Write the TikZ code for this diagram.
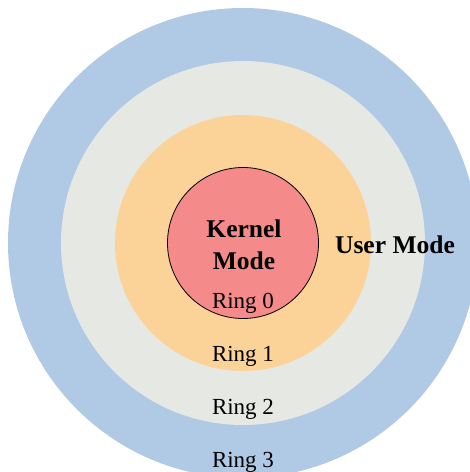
\documentclass[tikz,border=0pt]{standalone}
\usepackage{fontspec}
\setmainfont{Liberation Serif}
\definecolor{ringthree}{RGB}{176,201,229}
\definecolor{ringtwo}{RGB}{230,232,227}
\definecolor{ringone}{RGB}{251,211,152}
\definecolor{ringzero}{RGB}{245,138,138}
\begin{document}
\begin{tikzpicture}[x=1pt,y=-1pt,
  ring/.style={circle,inner sep=0pt,minimum size=#1},
  lbl/.style={font=\fontsize{23}{27}\selectfont,inner sep=0pt},
  bold/.style={font=\fontsize{25.5}{32}\selectfont\bfseries,inner sep=0pt,align=center}]
\useasboundingbox (0,0) rectangle (470,472);
\begin{scope}
\clip (0,0) rectangle (470,472);
\node[ring=470pt,fill=ringthree] (r3) at (243,243) {};
\node[ring=364pt,fill=ringtwo] (r2) at (243,243) {};
\node[ring=256pt,fill=ringone] (r1) at (243,243) {};
\node[ring=151pt,fill=ringzero,draw=black,line width=0.8pt] (r0) at (243,243) {};
\end{scope}
\node[bold] (kernel) at (244,245) {Kernel\\Mode};
\node[bold] (user) at (395,245) {User Mode};
\node[lbl] (l0) at (243,303) {Ring 0};
\node[lbl] (l1) at (243,356) {Ring 1};
\node[lbl] (l2) at (243,409) {Ring 2};
\node[lbl] (l3) at (243,462) {Ring 3};
\end{tikzpicture}
\end{document}
